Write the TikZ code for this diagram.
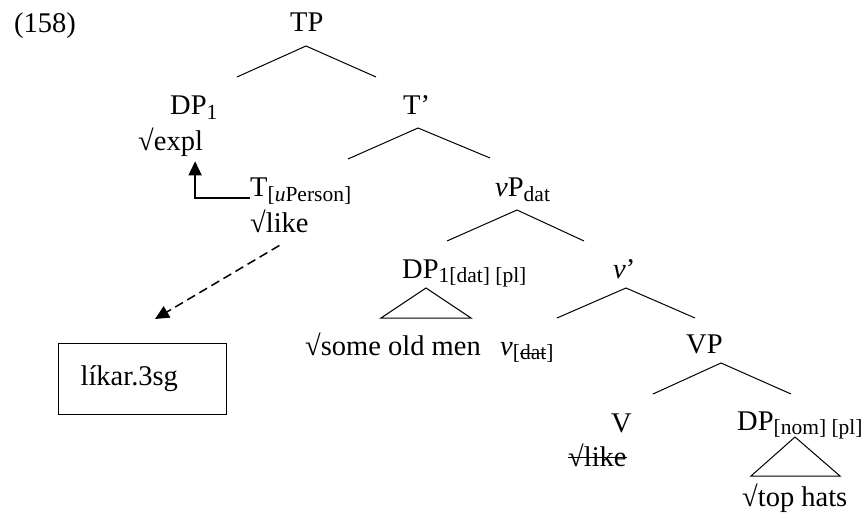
\documentclass[tikz,border=0pt]{standalone}
\usepackage{fontspec}
\setmainfont{Liberation Serif}
\usetikzlibrary{arrows.meta,positioning}
\newlength{\strkw}
\newcommand{\strk}[1]{\settowidth{\strkw}{#1}\rlap{#1}\rule[0.27em]{\strkw}{1.4pt}}
\newcommand{\subtx}[1]{\raisebox{-0.17em}{\fontsize{21.5}{22}\selectfont #1}}
\tikzset{
  word/.style={
    anchor = base west,
    inner sep = 0pt
  },
  branch/.style={
    line width = 1pt
  },
  lexbox/.style={
    draw,
    line width = 1.2pt,
    anchor = north west,
    minimum width = 168pt,
    minimum height = 71pt,
    inner xsep = 22pt,
    text width = 124pt,
    align = left
  },
  agree/.style={
    line width = 1.5pt,
    -{Triangle[length=14pt,width=13pt]}
  }
}

\begin{document}
\begin{tikzpicture}[x=1pt,y=-1pt,font=\fontsize{28.5}{33}\selectfont]
    \useasboundingbox (0,0) rectangle (866,518);
    % labels
    \node[word] (ex) at (14,33) {(158)};
    \node[word] (TP) at (290,32) {TP};
    \node[word] (DP1) at (170,115) {DP\subtx{1}};
    \node[word] (expl) at (138,151) {√expl};
    \node[word] (T1) at (403,115) {T’};
    \node[word] (Tu) at (250,197) {T\subtx{[\textit{u}Person]}};
    \node[word] (like) at (250,233) {√like};
    \node[word] (vP) at (495,197) {\textit{v}P\subtx{dat}};
    \node[word] (DPdat) at (402,278) {DP\subtx{1[dat] [pl]}};
    \node[word] (some) at (305,355) {√some old men};
    \node[word] (v1) at (613,278) {\textit{v}’};
    \node[word] (vdat) at (500,355) {\textit{v}\subtx{[\strk{dat}]}};
    \node[word] (VP) at (686,353) {VP};
    \node[word] (V) at (611,432) {V};
    \node[word] (likeV) at (568,466) {\strk{√like}};
    \node[word] (DPnom) at (737,430) {DP\subtx{[nom] [pl]}};
    \node[word] (hats) at (742,506) {√top hats};
    \node[lexbox] (lex) at (58,343) {líkar.3sg};
    % branch points
    \coordinate (TP-b) at (306,46);  \coordinate (TP-l) at (237,77);  \coordinate (TP-r) at (376,77);
    \coordinate (T1-b) at (418,128); \coordinate (T1-l) at (348,159); \coordinate (T1-r) at (490,158);
    \coordinate (vP-b) at (517,210); \coordinate (vP-l) at (447,241); \coordinate (vP-r) at (584,241);
    \coordinate (v1-b) at (626,288); \coordinate (v1-l) at (557,318); \coordinate (v1-r) at (695,318);
    \coordinate (VP-b) at (721,363); \coordinate (VP-l) at (653,394); \coordinate (VP-r) at (791,394);
    \coordinate (DPdat-b) at (426,288); \coordinate (DPdat-l) at (381,318); \coordinate (DPdat-r) at (471,318);
    \coordinate (DPnom-b) at (795,437); \coordinate (DPnom-l) at (751,476); \coordinate (DPnom-r) at (840,476);
    \coordinate (dtip) at (155,319);
    \foreach \n in {TP,T1,vP,v1,VP}{
    \draw[branch] (\n-l) -- (\n-b) -- (\n-r);}
    \foreach \n in {DPdat,DPnom}{
    \draw[branch] (\n-l) -- (\n-b) -- (\n-r) -- cycle;}
    % agreement arrows
    \draw[agree,shorten >=4pt] ([yshift=-1pt]Tu.base west) -| ([xshift=-8pt]expl.south east);
    \draw[agree,dash pattern=on 9pt off 5pt] ([yshift=-12pt]like.south) -- (dtip);
\end{tikzpicture}
\end{document}
